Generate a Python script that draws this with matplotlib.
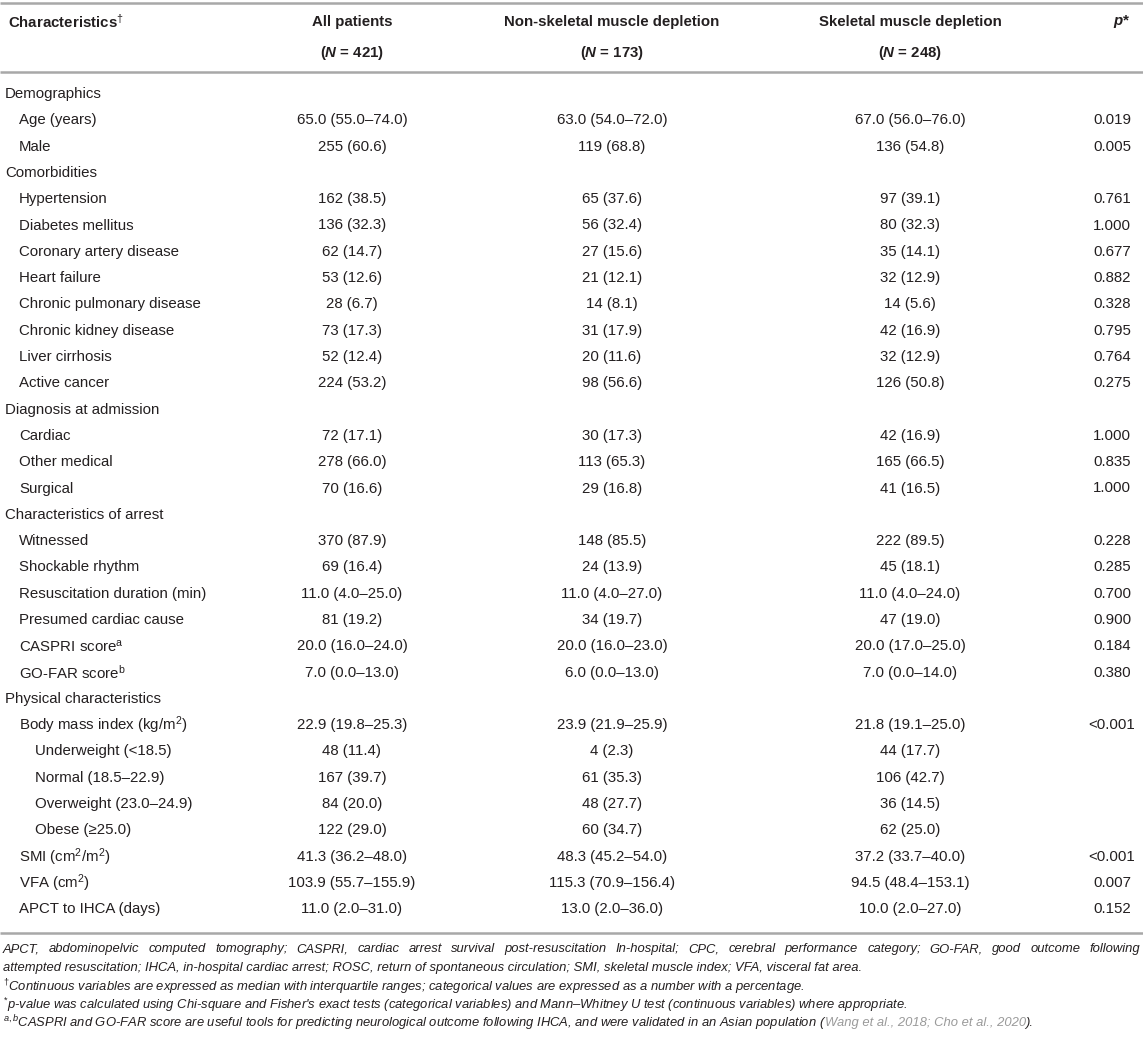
import matplotlib
matplotlib.use("Agg")
import matplotlib.pyplot as plt

plt.rcParams['font.family'] = ['Liberation Sans', 'DejaVu Sans']
plt.rcParams['mathtext.fontset'] = 'custom'
plt.rcParams['mathtext.rm'] = 'Liberation Sans'
plt.rcParams['mathtext.it'] = 'Liberation Sans:italic'
plt.rcParams['mathtext.bf'] = 'Liberation Sans:bold'
plt.rcParams['mathtext.bfit'] = 'Liberation Sans:italic:bold'

# ---- table data ----
col_heads = ["All patients", "Non-skeletal muscle depletion", "Skeletal muscle depletion"]
col_ns = [421, 173, 248]

labels = [
    "Demographics", "Age (years)", "Male",
    "Comorbidities", "Hypertension", "Diabetes mellitus", "Coronary artery disease",
    "Heart failure", "Chronic pulmonary disease", "Chronic kidney disease",
    "Liver cirrhosis", "Active cancer",
    "Diagnosis at admission", "Cardiac", "Other medical", "Surgical",
    "Characteristics of arrest", "Witnessed", "Shockable rhythm",
    "Resuscitation duration (min)", "Presumed cardiac cause",
    r"CASPRI score$^{\mathrm{a}}$", r"GO-FAR score$^{\mathrm{b}}$",
    "Physical characteristics", r"Body mass index (kg/m$^{2}$)",
    "Underweight (<18.5)", "Normal (18.5–22.9)", "Overweight (23.0–24.9)",
    "Obese (≥25.0)", r"SMI (cm$^{2}$/m$^{2}$)", r"VFA (cm$^{2}$)",
    "APCT to IHCA (days)",
]
levels = [0, 1, 1,
          0, 1, 1, 1, 1, 1, 1, 1, 1,
          0, 1, 1, 1,
          0, 1, 1, 1, 1, 1, 1,
          0, 1, 2, 2, 2, 2, 1, 1, 1]

all_pt = ["", "65.0 (55.0–74.0)", "255 (60.6)",
          "", "162 (38.5)", "136 (32.3)", "62 (14.7)", "53 (12.6)", "28 (6.7)",
          "73 (17.3)", "52 (12.4)", "224 (53.2)",
          "", "72 (17.1)", "278 (66.0)", "70 (16.6)",
          "", "370 (87.9)", "69 (16.4)", "11.0 (4.0–25.0)", "81 (19.2)",
          "20.0 (16.0–24.0)", "7.0 (0.0–13.0)",
          "", "22.9 (19.8–25.3)", "48 (11.4)", "167 (39.7)", "84 (20.0)",
          "122 (29.0)", "41.3 (36.2–48.0)", "103.9 (55.7–155.9)", "11.0 (2.0–31.0)"]
non_sk = ["", "63.0 (54.0–72.0)", "119 (68.8)",
          "", "65 (37.6)", "56 (32.4)", "27 (15.6)", "21 (12.1)", "14 (8.1)",
          "31 (17.9)", "20 (11.6)", "98 (56.6)",
          "", "30 (17.3)", "113 (65.3)", "29 (16.8)",
          "", "148 (85.5)", "24 (13.9)", "11.0 (4.0–27.0)", "34 (19.7)",
          "20.0 (16.0–23.0)", "6.0 (0.0–13.0)",
          "", "23.9 (21.9–25.9)", "4 (2.3)", "61 (35.3)", "48 (27.7)",
          "60 (34.7)", "48.3 (45.2–54.0)", "115.3 (70.9–156.4)", "13.0 (2.0–36.0)"]
sk = ["", "67.0 (56.0–76.0)", "136 (54.8)",
      "", "97 (39.1)", "80 (32.3)", "35 (14.1)", "32 (12.9)", "14 (5.6)",
      "42 (16.9)", "32 (12.9)", "126 (50.8)",
      "", "42 (16.9)", "165 (66.5)", "41 (16.5)",
      "", "222 (89.5)", "45 (18.1)", "11.0 (4.0–24.0)", "47 (19.0)",
      "20.0 (17.0–25.0)", "7.0 (0.0–14.0)",
      "", "21.8 (19.1–25.0)", "44 (17.7)", "106 (42.7)", "36 (14.5)",
      "62 (25.0)", "37.2 (33.7–40.0)", "94.5 (48.4–153.1)", "10.0 (2.0–27.0)"]
pvals = ["", "0.019", "0.005",
         "", "0.761", "1.000", "0.677", "0.882", "0.328", "0.795", "0.764", "0.275",
         "", "1.000", "0.835", "1.000",
         "", "0.228", "0.285", "0.700", "0.900", "0.184", "0.380",
         "", "<0.001", "", "", "", "", "<0.001", "0.007", "0.152"]

foot_first = "APCT, abdominopelvic computed tomography; CASPRI, cardiac arrest survival post-resuscitation In-hospital; CPC, cerebral performance category; GO-FAR, good outcome following"
foot_lines = [
    "attempted resuscitation; IHCA, in-hospital cardiac arrest; ROSC, return of spontaneous circulation; SMI, skeletal muscle index; VFA, visceral fat area.",
    r"$^{\dagger}$Continuous variables are expressed as median with interquartile ranges; categorical values are expressed as a number with a percentage.",
    r"$^{*}$p-value was calculated using Chi-square and Fisher's exact tests (categorical variables) and Mann–Whitney U test (continuous variables) where appropriate.",
]
last_foot = [
    (r"$^{\mathit{a,b}}$CASPRI and GO-FAR score are useful tools for predicting neurological outcome following IHCA, and were validated in an Asian population (", "#231f20"),
    ("Wang et al., 2018; Cho et al., 2020", "#9a9a9a"),
    (").", "#231f20"),
]

W, H = 1143, 1041
fig = plt.figure(figsize=(W / 100, H / 100), dpi=100)
ax = fig.add_axes([0, 0, 1, 1])
ax.set_xlim(0, W)
ax.set_ylim(H, 0)
ax.axis('off')

txt = '#231f20'
rule = '#a8a8a8'
fs = 10.8
ffs = 9.4
col_x = [352, 612, 910]
p_x = 1112
indent = [5, 19, 35]

# rules
for yy in [3, 72, 933]:
    ax.plot([0, W], [yy, yy], color=rule, lw=1.8, solid_capstyle='butt')

# header
ax.text(8, 22, r"Characteristics$^{\dagger}$", fontsize=fs, fontweight='bold',
        color=txt, va='center', ha='left')
for cx, name, n in zip(col_x, col_heads, col_ns):
    ax.text(cx, 22, name, fontsize=fs, fontweight='bold', color=txt, va='center', ha='center')
    ax.text(cx, 53, r"($\mathbfit{N}$ = %d)" % n, fontsize=fs, fontweight='bold',
            color=txt, va='center', ha='center')
ax.text(p_x + 18, 22, r"$\mathbfit{p}$*", fontsize=fs, fontweight='bold', color=txt,
        va='center', ha='right')

# body rows
y0, dy = 94, 26.3
for i, lab in enumerate(labels):
    y = y0 + i * dy
    ax.text(indent[levels[i]], y, lab, fontsize=fs, color=txt, va='center', ha='left')
    for cx, vals in zip(col_x, [all_pt, non_sk, sk]):
        if vals[i]:
            ax.text(cx, y, vals[i], fontsize=fs, color=txt, va='center', ha='center')
    if pvals[i]:
        ax.text(p_x, y, pvals[i], fontsize=fs, color=txt, va='center', ha='center')

# footnotes
fy = [949, 968, 987, 1005, 1023]
fig.canvas.draw()
r = fig.canvas.get_renderer()

# first footnote line is justified to the full width
words = foot_first.split(" ")
objs = [ax.text(0, fy[0], w_, fontsize=ffs, style='italic', color=txt, va='center', ha='left')
        for w_ in words]
widths = [o.get_window_extent(renderer=r).width for o in objs]
left, right = 3, 1140
gap = (right - left - sum(widths)) / (len(words) - 1)
x = left
for o, wd in zip(objs, widths):
    o.set_x(x)
    x += wd + gap

for yy, line in zip(fy[1:4], foot_lines):
    ax.text(3, yy, line, fontsize=ffs, style='italic', color=txt, va='center', ha='left')

x = 3
for piece, c in last_foot:
    t = ax.text(x, fy[4], piece, fontsize=ffs, style='italic', color=c, va='center', ha='left')
    bb = t.get_window_extent(renderer=r)
    x += bb.width - 1

fig.savefig("out.png", dpi=100)
